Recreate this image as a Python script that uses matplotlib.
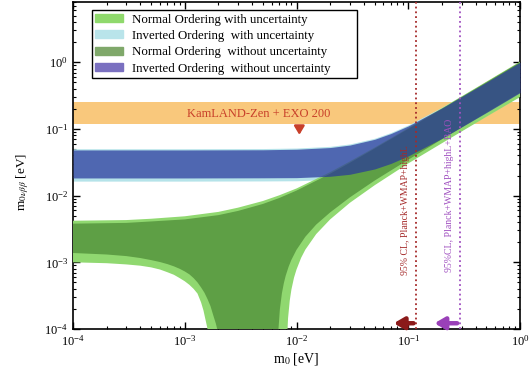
import matplotlib
matplotlib.use("Agg")
import matplotlib.pyplot as plt
from matplotlib.patches import Patch
import numpy as np

plt.rcParams['font.family'] = ['Liberation Serif', 'DejaVu Serif']
plt.rcParams['mathtext.fontset'] = 'stix'

# Normal ordering, best fit (dark green)
no_up_m0 = [1e-4, 3e-4, 5e-4, 1e-3, 2e-3, 3e-3, 5e-3, 7e-3, 1e-2, 2e-2, 3e-2, 5e-2, 0.1, 0.2, 0.5, 1.0]
no_up = [0.0038, 0.0039, 0.0041, 0.0044, 0.0051, 0.0059, 0.0075, 0.0092, 0.0119, 0.0213, 0.031, 0.0507, 0.100, 0.200, 0.500, 1.00]
no_lo_left_m0 = [1e-4, 2e-4, 3e-4, 4e-4, 5e-4, 6e-4, 7e-4, 8e-4, 9e-4, 1.0e-3, 1.1e-3, 1.2e-3,
                 1.3e-3, 1.4e-3, 1.5e-3, 1.6e-3, 1.7e-3, 1.8e-3, 1.9e-3, 1.95e-3, 2.0e-3, 2.05e-3, 2.1e-3, 2.12e-3]
no_lo_left = [0.00138, 0.00131, 0.00124, 0.00116, 0.00108, 0.00101, 0.00094, 0.00087, 0.00080, 0.00073,
              0.00066, 0.00058, 0.00050, 0.00042, 0.00035, 0.00028, 0.00022, 0.00016, 0.00012, 0.00010,
              0.00007, 0.00004, 0.00001, 1e-6]
no_lo_right_m0 = [6.68e-3, 6.7e-3, 6.8e-3, 6.9e-3, 7.1e-3, 7.4e-3, 7.7e-3, 8.0e-3, 8.5e-3, 9e-3, 1e-2,
                  1.2e-2, 1.5e-2, 2e-2, 3e-2, 5e-2, 0.1, 0.2, 0.5, 1.0]
no_lo_right = [1e-6, 4.5e-6, 5.4e-5, 1.02e-4, 1.99e-4, 3.43e-4, 4.86e-4, 6.28e-4, 8.6e-4, 1.09e-3, 1.54e-3,
               2.42e-3, 3.68e-3, 5.6e-3, 9.4e-3, 0.0168, 0.0345, 0.070, 0.175, 0.35]

# Normal ordering with uncertainty (light green)
nou_up = [0.0042, 0.0043, 0.0045, 0.0049, 0.0057, 0.0066, 0.0083, 0.0101, 0.0128, 0.0225, 0.0325, 0.0525, 0.103, 0.205, 0.51, 1.02]
nou_lo_left_m0 = [1e-4, 2e-4, 3e-4, 4e-4, 5e-4, 6e-4, 7e-4, 8e-4, 9e-4, 1.0e-3, 1.1e-3, 1.2e-3, 1.3e-3,
                  1.4e-3, 1.47e-3, 1.53e-3, 1.59e-3, 1.65e-3, 1.7e-3, 1.72e-3]
nou_lo_left = [0.00100, 0.00097, 0.00093, 0.00089, 0.00084, 0.00078, 0.00071, 0.00065, 0.00058, 0.00052,
               0.00046, 0.00040, 0.00034, 0.00025, 0.00019, 0.00014, 0.000105, 0.00006, 0.00002, 1e-6]
nou_lo_right_m0 = [8.05e-3, 8.2e-3, 8.4e-3, 8.7e-3, 9e-3, 9.5e-3, 1e-2, 1.1e-2, 1.2e-2, 1.5e-2, 2e-2,
                   3e-2, 5e-2, 0.1, 0.2, 0.5, 1.0]
nou_lo_right = [1e-6, 6.3e-5, 1.45e-4, 2.67e-4, 3.9e-4, 5.9e-4, 7.8e-4, 1.17e-3, 1.55e-3, 2.65e-3, 4.4e-3,
                7.8e-3, 0.0143, 0.0304, 0.061, 0.152, 0.30]

# Inverted ordering
io_m0 = [1e-4, 1e-3, 5e-3, 1e-2, 2e-2, 3e-2, 5e-2, 7e-2, 0.1, 0.2, 0.5, 1.0]
io_up = [0.0484, 0.0484, 0.0487, 0.0496, 0.0526, 0.0573, 0.0699, 0.0854, 0.111, 0.206, 0.502, 1.0]
io_lo = [0.0184, 0.0184, 0.0185, 0.0186, 0.0195, 0.0209, 0.0251, 0.0304, 0.0394, 0.0722, 0.176, 0.35]
io_up_unc = [0.0505, 0.0505, 0.0508, 0.0517, 0.0548, 0.0596, 0.0725, 0.0885, 0.115, 0.212, 0.515, 1.02]
io_lo_unc = [0.0165, 0.0165, 0.0166, 0.0167, 0.0175, 0.0188, 0.0226, 0.0273, 0.0354, 0.065, 0.158, 0.315]

# experimental limits
kamland = [0.12, 0.25]
planck_lim = 0.118
planck_bao_lim = 0.29

legend_labels = ["Normal Ordering with uncertainty",
                 "Inverted Ordering  with uncertainty",
                 "Normal Ordering  without uncertainty",
                 "Inverted Ordering  without uncertainty"]


def band(ax, x_up, y_up, x_lo_r, y_lo_r, x_lo_l, y_lo_l, **kw):
    xs = np.concatenate([x_up, x_lo_r[::-1], x_lo_l[::-1]])
    ys = np.concatenate([y_up, y_lo_r[::-1], y_lo_l[::-1]])
    ax.fill(xs, ys, lw=0, **kw)


fig = plt.figure(figsize=(5.31, 3.78), dpi=100)
ax = fig.add_axes([0.1375, 0.1296, 0.8418, 0.8651])
ax.set_xscale('log')
ax.set_yscale('log')

ax.axhspan(kamland[0], kamland[1], color='#f9c87c', lw=0, zorder=1)

ax.fill_between(io_m0, io_lo_unc, io_up_unc, color='#b5e3e9', lw=0, zorder=2)
band(ax, np.array(no_up_m0), np.array(nou_up), np.array(nou_lo_right_m0), np.array(nou_lo_right),
     np.array(nou_lo_left_m0), np.array(nou_lo_left), color='#90d870', zorder=3)
band(ax, np.array(no_up_m0), np.array(no_up), np.array(no_lo_right_m0), np.array(no_lo_right),
     np.array(no_lo_left_m0), np.array(no_lo_left), color='#5e9f45', zorder=4)
ax.fill_between(io_m0, io_lo, io_up, color='#28379c', alpha=0.72, lw=0, zorder=5)

ax.axvline(planck_lim, color='#a52a2a', ls=':', lw=1.3, zorder=6)
ax.axvline(planck_bao_lim, color='#a050c0', ls=':', lw=1.3, zorder=6)
ax.text(0.094, 0.0061, "95% CL, Planck+WMAP+highL", rotation=90, color='#a52a2a',
        fontsize=7, ha='center', va='center', zorder=7)
ax.text(0.232, 0.0102, "95%CL, Planck+WMAP+highL+BAO", rotation=90, color='#a050c0',
        fontsize=7, ha='center', va='center', zorder=7)
ax.annotate('', xy=(0.070, 1.22e-4), xytext=(planck_lim, 1.22e-4),
            arrowprops=dict(arrowstyle='-|>,head_length=0.6,head_width=0.35', lw=3.2, color='#8b1a1a'), zorder=8)
ax.annotate('', xy=(0.162, 1.22e-4), xytext=(planck_bao_lim, 1.22e-4),
            arrowprops=dict(arrowstyle='-|>,head_length=0.6,head_width=0.35', lw=3.2, color='#9a40b8'), zorder=8)

ax.text(0.0046, 0.169, "KamLAND-Zen + EXO 200", color='#c8402a', fontsize=9,
        ha='center', va='center', zorder=7)
ax.annotate('', xy=(0.0106, 0.074), xytext=(0.0106, 0.117),
            arrowprops=dict(arrowstyle='-|>,head_length=0.5,head_width=0.3', lw=1.8, color='#c8402a'), zorder=8)

ax.set_xlim(1e-4, 1)
ax.set_ylim(1e-4, 8)
ax.tick_params(which='both', direction='in', top=True, right=True, labelsize=9)
ax.tick_params(which='major', length=5, width=1)
ax.tick_params(which='minor', length=2.5, width=0.8)
for s in ax.spines.values():
    s.set_linewidth(1.2)

ax.set_xlabel(r'm$_0$ [eV]', fontsize=10, labelpad=2)
ax.set_ylabel(r'm$_{0\nu\beta\beta}$ [eV]', fontsize=9.5)
ax.yaxis.set_label_coords(-0.093, 0.45)

handles = [Patch(color='#8fd96c'), Patch(color='#b9e4ea'), Patch(color='#7fa86a'), Patch(color='#7a70c0')]
leg = ax.legend(handles, legend_labels, loc='upper left', bbox_to_anchor=(0.0425, 0.5, 0.593, 0.4755),
                mode='expand', borderaxespad=0, fontsize=9.3, fancybox=False, framealpha=1,
                edgecolor='black', handlelength=2.1, handleheight=0.6, handletextpad=0.75,
                labelspacing=0.34, borderpad=0.27)
leg.get_frame().set_linewidth(1.0)
leg.set_zorder(10)

fig.savefig('out.png', dpi=100)
